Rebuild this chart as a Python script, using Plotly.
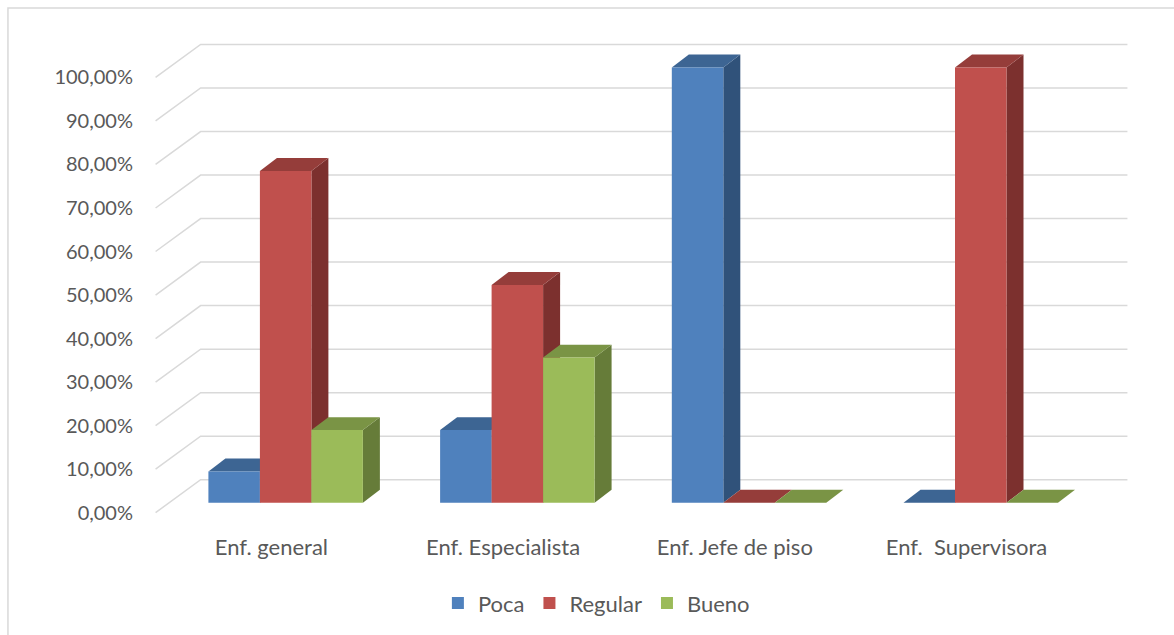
import plotly.graph_objects as go

# Data
categories = ["Enf. general", "Enf. Especialista", "Enf. Jefe de piso", "Enf.  Supervisora"]
series_names = ["Poca", "Regular", "Bueno"]
poca = [7.14, 16.67, 100.0, 0.0]
regular = [76.19, 50.0, 0.0, 100.0]
bueno = [16.67, 33.33, 0.0, 0.0]
y_ticks = [0, 10, 20, 30, 40, 50, 60, 70, 80, 90, 100]

series_values = [poca, regular, bueno]
front_colors = ["#4F81BD", "#C0504D", "#9BBB59"]
top_colors = ["#3D6593", "#953D3A", "#7A9445"]
side_colors = ["#30527A", "#7C302E", "#667C39"]

# Pseudo-3D geometry (x in category units, y in percent)
PX_X = 231.5            # pixels per category
PX_Y = 4.36             # pixels per percent
WALL_DX, WALL_DY = 45 / PX_X, 33 / PX_Y       # depth of the back wall
BAR_DX, BAR_DY = 14.2 / PX_X, 10 / PX_Y       # bar front offset from front plane
DEPTH_DX, DEPTH_DY = 17 / PX_X, 13 / PX_Y     # bar depth
BAR_W = 1 / 4.5                                # 3 bars + 150 % gap

W, H = 1174, 635
front_left_px, front_bottom_px = 156, 513
x_lo, x_hi = -0.55, 3.5 + WALL_DX + 0.05
y_lo, y_hi = -1.0, 100 + WALL_DY + 0.8

m_l = front_left_px - (-0.5 - x_lo) * PX_X
plot_w = (x_hi - x_lo) * PX_X
m_r = W - m_l - plot_w
m_b = H - (front_bottom_px - y_lo * PX_Y)
m_t = front_bottom_px - y_hi * PX_Y

fig = go.Figure()
shapes = []

# Back-wall gridlines with their oblique floor/side segments
for v in y_ticks:
    shapes.append(dict(
        type="path", xref="x", yref="y", layer="below",
        path=f"M {-0.5},{v} L {-0.5 + WALL_DX},{v + WALL_DY} L {3.5 + WALL_DX},{v + WALL_DY}",
        line=dict(color="#D9D9D9", width=1.5),
    ))

# Column tops and sides, drawn left to right so nearer faces overlap correctly
offsets = [-1.5 * BAR_W, -0.5 * BAR_W, 0.5 * BAR_W]
for i in range(len(categories)):
    for k, vals in enumerate(series_values):
        v = vals[i]
        x0 = i + BAR_DX + offsets[k]
        x1 = x0 + BAR_W
        yb = BAR_DY
        yt = BAR_DY + v
        if v > 0:
            shapes.append(dict(
                type="path", xref="x", yref="y", layer="below",
                path=(f"M {x1},{yb} L {x1 + DEPTH_DX},{yb + DEPTH_DY} "
                      f"L {x1 + DEPTH_DX},{yt + DEPTH_DY} L {x1},{yt} Z"),
                fillcolor=side_colors[k], line=dict(width=0),
            ))
        shapes.append(dict(
            type="path", xref="x", yref="y", layer="below",
            path=(f"M {x0},{yt} L {x1},{yt} L {x1 + DEPTH_DX},{yt + DEPTH_DY} "
                  f"L {x0 + DEPTH_DX},{yt + DEPTH_DY} Z"),
            fillcolor=top_colors[k], line=dict(width=0),
        ))

# Column front faces
for k, (name, vals) in enumerate(zip(series_names, series_values)):
    fig.add_trace(go.Bar(
        name=name,
        x=[i + BAR_DX for i in range(len(categories))],
        y=vals,
        base=BAR_DY,
        width=BAR_W,
        offset=offsets[k],
        marker=dict(color=front_colors[k], line=dict(width=0)),
        hovertemplate="%{customdata}: %{y:.2f}%<extra>" + name + "</extra>",
        customdata=categories,
    ))

# Chart-area border
shapes.append(dict(
    type="rect", xref="paper", yref="paper", layer="above",
    x0=(8.5 - m_l) / plot_w, x1=(1190 - m_l) / plot_w,
    y0=-(650 - (H - m_b)) / (H - m_t - m_b), y1=((H - m_b) - 7.5) / (H - m_t - m_b),
    line=dict(color="#D9D9D9", width=1.5),
))

font_family = "Lato, 'Open Sans', sans-serif"
fig.update_layout(
    width=W, height=H,
    margin=dict(l=m_l, r=m_r, t=m_t, b=m_b, pad=0),
    paper_bgcolor="white", plot_bgcolor="white",
    barmode="overlay",
    separators=",.",
    shapes=shapes,
    font=dict(family=font_family, size=20, color="#595959"),
    xaxis=dict(
        range=[x_lo, x_hi], showgrid=False, zeroline=False, showline=False,
        tickmode="array", tickvals=list(range(len(categories))), ticktext=categories,
        ticks="", ticklabelstandoff=15, tickfont=dict(size=22, color="#595959"),
        fixedrange=True,
    ),
    yaxis=dict(
        range=[y_lo, y_hi], showgrid=False, zeroline=False, showline=False,
        tickmode="array", tickvals=y_ticks,
        ticktext=[f"{t:.2f}".replace(".", ",") + "%" for t in y_ticks],
        ticks="", ticklabelstandoff=10, tickfont=dict(size=20, color="#595959"),
        fixedrange=True,
    ),
    legend=dict(
        orientation="h", xref="container", yref="container",
        x=0.508, xanchor="center", y=0.05, yanchor="middle",
        font=dict(size=22, color="#595959"),
        itemsizing="constant",
    ),
    showlegend=True,
)

fig.write_html("out.html")
